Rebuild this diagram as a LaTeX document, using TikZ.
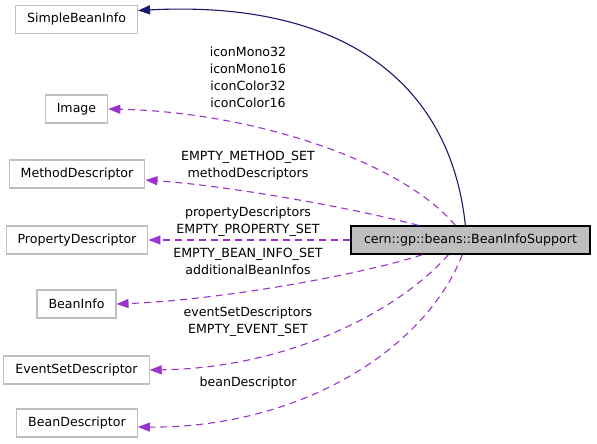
\documentclass[tikz,border=0pt]{standalone}
\usepackage{fontspec}
\setmainfont{DejaVu Sans}
\usetikzlibrary{arrows.meta,positioning,calc}
\definecolor{box_border_color}{RGB}{191,191,191}
\definecolor{main_fill_color}{RGB}{191,191,191}
\definecolor{inherit_color}{RGB}{25,25,112}
\definecolor{usage_color}{RGB}{154,50,205}
\tikzset{
  classbox/.style={
    draw=box_border_color, line width=1.2pt, fill=white,
    inner xsep=11.5pt, minimum height=28pt,
    font=\fontsize{12.6pt}{17pt}\selectfont
  },
  mainbox/.style={
    draw=black, line width=1.4pt, fill=main_fill_color,
    inner xsep=13pt, minimum height=28pt,
    font=\fontsize{12.6pt}{17pt}\selectfont
  },
  inheritlink/.style={
    draw=inherit_color, line width=1.1pt,
    -{Triangle[length=12pt, width=9pt]}
  },
  usagelink/.style={
    draw=usage_color, line width=1.1pt, dash pattern=on 7pt off 5pt,
    -{Triangle[length=12pt, width=9pt]}
  },
  varlabel/.style={
    align=center, inner sep=0pt,
    font=\fontsize{12.6pt}{17pt}\selectfont
  }
}

\begin{document}
\begin{tikzpicture}[x=1pt, y=-1pt]

\useasboundingbox (0,0) rectangle (597,444);

\node[mainbox] (bis) at (470.5,240) {cern::gp::beans::BeanInfoSupport};

\node[classbox] (sbi) at (76.5,19.5) {SimpleBeanInfo};
\node[classbox] (img) at (76.5,109) {Image};
\node[classbox] (md) at (77,174) {MethodDescriptor};
\node[classbox] (pd) at (77,240) {PropertyDescriptor};
\node[classbox] (bi) at (76.5,304) {BeanInfo};
\node[classbox] (esd) at (76.5,370) {EventSetDescriptor};
\node[classbox] (bd) at (77,423) {BeanDescriptor};

% member labels
\node[varlabel] (img_lbl) at (248,77.5) {iconMono32\\iconMono16\\iconColor32\\iconColor16};
\node[varlabel] (md_lbl) at (248,165.5) {EMPTY\_METHOD\_SET\\methodDescriptors};
\node[varlabel] (pd_lbl) at (248,221.5) {propertyDescriptors\\EMPTY\_PROPERTY\_SET};
\node[varlabel] (bi_lbl) at (248,261.5) {EMPTY\_BEAN\_INFO\_SET\\additionalBeanInfos};
\node[varlabel] (esd_lbl) at (248,321.5) {eventSetDescriptors\\EMPTY\_EVENT\_SET};
\node[varlabel] (bd_lbl) at (248,383.5) {beanDescriptor};

% inheritance
\draw[inheritlink] ([xshift=115pt]bis.north west) .. controls (450,80) and (340,0) .. ([yshift=9pt]sbi.east);

% usage
\draw[usagelink] ([xshift=105pt]bis.north west) .. controls (400,160) and (250,112) .. (img.east);
\draw[usagelink] ([xshift=68pt]bis.north west) .. controls (340,205) and (220,185) .. ([yshift=-6pt]md.east);
\draw[usagelink] (bis.west) -- (pd.east);
\draw[usagelink] ([xshift=72pt]bis.south west) .. controls (360,275) and (220,300) .. (bi.east);
\draw[usagelink] ([xshift=98pt]bis.south west) .. controls (400,310) and (290,368) .. (esd.east);
\draw[usagelink] ([xshift=112pt]bis.south west) .. controls (425,350) and (300,428) .. ([yshift=-4pt]bd.east);

\end{tikzpicture}
\end{document}
